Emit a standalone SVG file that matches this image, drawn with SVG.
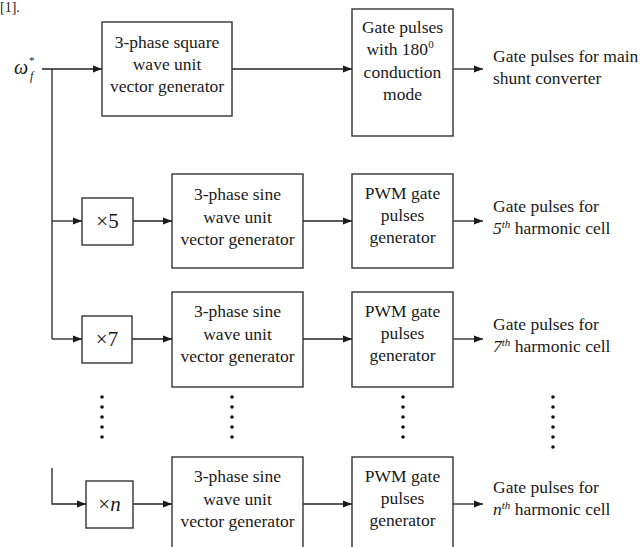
<svg xmlns="http://www.w3.org/2000/svg" width="644" height="547" viewBox="0 0 644 547">
<defs>
<marker id="ah" markerWidth="9" markerHeight="8" refX="9" refY="4" orient="auto" markerUnits="userSpaceOnUse">
<path d="M0,0.5 L9,4 L0,7.5 z" fill="#1a1a1a"/>
</marker>
<style>
.box{fill:#fff;stroke:#333;stroke-width:1.4}
.ln{fill:none;stroke:#222;stroke-width:1.3}
.ar{fill:none;stroke:#222;stroke-width:1.3;marker-end:url(#ah)}
text{font-family:"Liberation Serif","Times New Roman",serif;font-size:17.5px;fill:#1a1a1a}
.c{text-anchor:middle}
.sup{font-size:11px;font-style:italic}
.dot{fill:#111}
</style>
</defs>
<rect width="644" height="547" fill="#fff"/>
<text x="0" y="12" style="font-size:14px">[1].</text>

<g id="input">
<text x="14" y="74" style="font-size:20px;font-style:italic">ω</text>
<text x="29" y="64" style="font-size:11px">*</text>
<text x="30" y="80" style="font-size:12px;font-style:italic">f</text>
</g>

<g id="connectors">
<line class="ar" x1="42" y1="69" x2="102" y2="69"/>
<polyline class="ln" points="52,69 52,339"/>
<line class="ar" x1="232" y1="69" x2="352" y2="69"/>
<line class="ar" x1="453" y1="69" x2="483" y2="69"/>
<line class="ar" x1="52" y1="221" x2="82" y2="221"/>
<line class="ar" x1="133" y1="221" x2="172" y2="221"/>
<line class="ar" x1="303" y1="221" x2="352" y2="221"/>
<line class="ar" x1="453" y1="221" x2="483" y2="221"/>
<line class="ar" x1="52" y1="339" x2="82" y2="339"/>
<line class="ar" x1="132" y1="339" x2="172" y2="339"/>
<line class="ar" x1="303" y1="339" x2="352" y2="339"/>
<line class="ar" x1="453" y1="339" x2="483" y2="339"/>
<polyline class="ar" points="52,468 52,504 86,504"/>
<line class="ar" x1="133" y1="504" x2="172" y2="504"/>
<line class="ar" x1="303" y1="504" x2="352" y2="504"/>
<line class="ar" x1="453" y1="504" x2="483" y2="504"/>
</g>

<g id="sq-gen">
<rect class="box" x="102" y="22" width="130" height="94"/>
<text class="c" x="167" y="48">3-phase square</text>
<text class="c" x="167" y="70">wave unit</text>
<text class="c" x="167" y="92">vector generator</text>
</g>
<g id="gate180">
<rect class="box" x="352" y="9" width="101" height="127"/>
<text class="c" x="402.5" y="33">Gate pulses</text>
<text class="c" x="400" y="55">with 180<tspan dy="-7" style="font-size:11px">0</tspan></text>
<text class="c" x="402.5" y="78">conduction</text>
<text class="c" x="402.5" y="100">mode</text>
</g>
<g id="out-main">
<text x="493" y="62">Gate pulses for main</text>
<text x="493" y="84">shunt converter</text>
</g>

<g id="x5">
<rect class="box" x="82" y="198" width="51" height="47"/>
<text class="c" x="107.5" y="228" style="font-size:21px">×5</text>
</g>
<g id="sine5">
<rect class="box" x="172" y="174" width="131" height="94"/>
<text class="c" x="237.5" y="200">3-phase sine</text>
<text class="c" x="237.5" y="223">wave unit</text>
<text class="c" x="237.5" y="245">vector generator</text>
</g>
<g id="pwm5">
<rect class="box" x="352" y="174" width="101" height="94"/>
<text class="c" x="402.5" y="199">PWM gate</text>
<text class="c" x="402.5" y="221">pulses</text>
<text class="c" x="402.5" y="243">generator</text>
</g>
<g id="out5">
<text x="493" y="212">Gate pulses for</text>
<text x="493" y="234"><tspan style="font-style:italic">5</tspan><tspan class="sup" dy="-6">th</tspan><tspan dy="6"> harmonic cell</tspan></text>
</g>

<g id="x7">
<rect class="box" x="82" y="316" width="50" height="47"/>
<text class="c" x="107" y="346" style="font-size:21px">×7</text>
</g>
<g id="sine7">
<rect class="box" x="172" y="292" width="131" height="95"/>
<text class="c" x="237.5" y="317">3-phase sine</text>
<text class="c" x="237.5" y="340">wave unit</text>
<text class="c" x="237.5" y="362">vector generator</text>
</g>
<g id="pwm7">
<rect class="box" x="352" y="292" width="101" height="95"/>
<text class="c" x="402.5" y="317">PWM gate</text>
<text class="c" x="402.5" y="339">pulses</text>
<text class="c" x="402.5" y="361">generator</text>
</g>
<g id="out7">
<text x="493" y="330">Gate pulses for</text>
<text x="493" y="352"><tspan style="font-style:italic">7</tspan><tspan class="sup" dy="-6">th</tspan><tspan dy="6"> harmonic cell</tspan></text>
</g>

<g id="dots">
<circle class="dot" cx="102" cy="397" r="1.8"/><circle class="dot" cx="102" cy="407" r="1.8"/><circle class="dot" cx="102" cy="417" r="1.8"/><circle class="dot" cx="102" cy="427" r="1.8"/><circle class="dot" cx="102" cy="437" r="1.8"/>
<circle class="dot" cx="232" cy="397" r="1.8"/><circle class="dot" cx="232" cy="407" r="1.8"/><circle class="dot" cx="232" cy="417" r="1.8"/><circle class="dot" cx="232" cy="427" r="1.8"/><circle class="dot" cx="232" cy="437" r="1.8"/>
<circle class="dot" cx="403" cy="397" r="1.8"/><circle class="dot" cx="403" cy="407" r="1.8"/><circle class="dot" cx="403" cy="417" r="1.8"/><circle class="dot" cx="403" cy="427" r="1.8"/><circle class="dot" cx="403" cy="437" r="1.8"/>
<circle class="dot" cx="553" cy="397" r="1.8"/><circle class="dot" cx="553" cy="407" r="1.8"/><circle class="dot" cx="553" cy="417" r="1.8"/><circle class="dot" cx="553" cy="427" r="1.8"/><circle class="dot" cx="553" cy="437" r="1.8"/><circle class="dot" cx="553" cy="447" r="1.8"/>
</g>

<g id="xn">
<rect class="box" x="86" y="481" width="47" height="47"/>
<text class="c" x="109.5" y="511" style="font-size:21px">×<tspan style="font-style:italic">n</tspan></text>
</g>
<g id="sinen">
<rect class="box" x="172" y="457" width="131" height="110"/>
<text class="c" x="237.5" y="482">3-phase sine</text>
<text class="c" x="237.5" y="505">wave unit</text>
<text class="c" x="237.5" y="527">vector generator</text>
</g>
<g id="pwmn">
<rect class="box" x="352" y="457" width="101" height="110"/>
<text class="c" x="402.5" y="482">PWM gate</text>
<text class="c" x="402.5" y="504">pulses</text>
<text class="c" x="402.5" y="526">generator</text>
</g>
<g id="outn">
<text x="493" y="493">Gate pulses for</text>
<text x="493" y="515"><tspan style="font-style:italic">n</tspan><tspan class="sup" dy="-6">th</tspan><tspan dy="6"> harmonic cell</tspan></text>
</g>
</svg>
